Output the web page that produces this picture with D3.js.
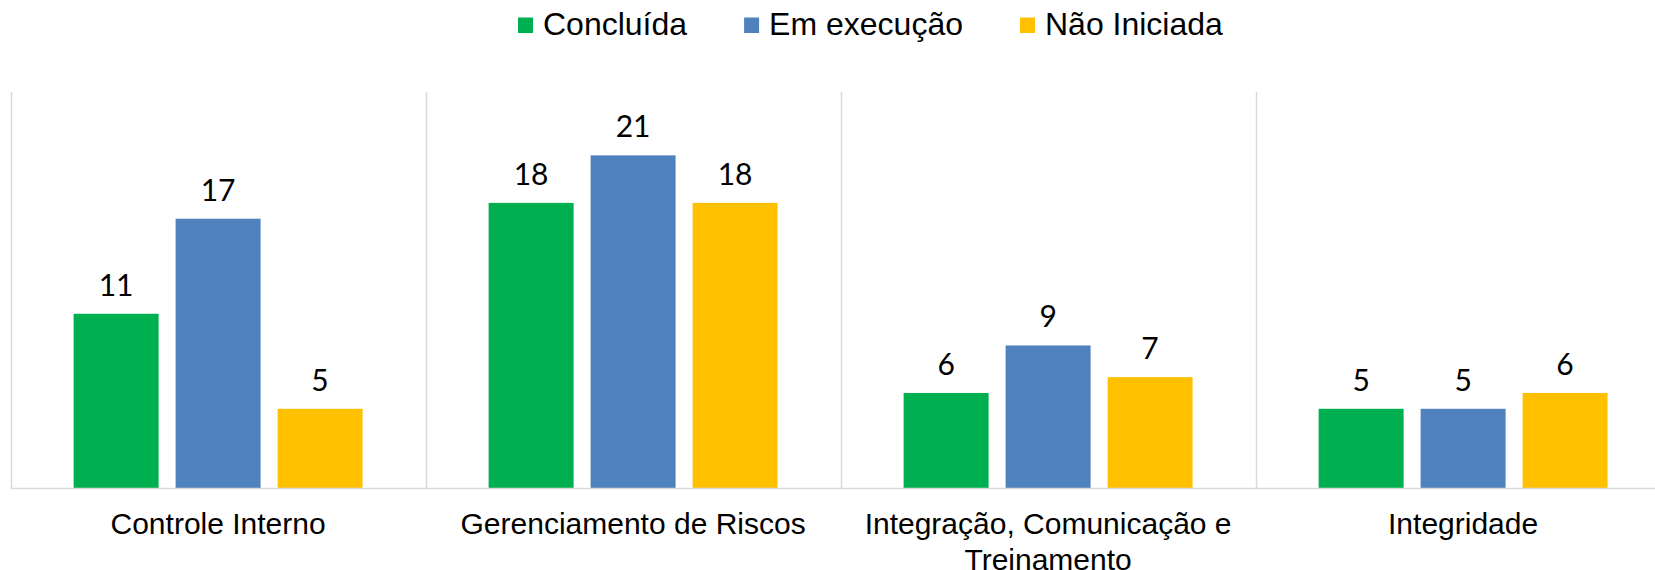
<!DOCTYPE html>
<html>
<head>
<meta charset="utf-8">
<script src="https://cdn.jsdelivr.net/npm/d3@7"></script>
<style>
  html, body { margin: 0; padding: 0; background: #fff; }
  svg { display: block; }
</style>
</head>
<body>
<div id="chart"></div>
<script>
// data
var categories = ["Controle Interno", "Gerenciamento de Riscos", "Integração, Comunicação e Treinamento", "Integridade"];
var series = ["Concluída", "Em execução", "Não Iniciada"];
var concluida = [11, 18, 6, 5];
var emExecucao = [17, 21, 9, 5];
var naoIniciada = [5, 18, 7, 6];
var colors = ["#00B050", "#4F81BD", "#FFC000"];

var values = [concluida, emExecucao, naoIniciada];
var width = 1655, height = 570;
var plotTop = 92, plotBottom = 488, plotLeft = 10.6, step = 415;

var svg = d3.select("#chart").append("svg")
  .attr("width", width)
  .attr("height", height);

var x = d3.scaleBand()
  .domain(categories)
  .range([plotLeft, plotLeft + step * categories.length]);

var xs = d3.scaleBand()
  .domain(series)
  .range([0, x.bandwidth()])
  .paddingInner(0.1667)
  .paddingOuter(0.618);

var y = d3.scaleLinear().domain([0, 25]).range([plotBottom, plotTop]);

// vertical dividers between categories
svg.append("g").selectAll("line")
  .data(categories)
  .join("line")
  .attr("x1", d => Math.round(x(d)) + 0.5)
  .attr("x2", d => Math.round(x(d)) + 0.5)
  .attr("y1", y(25))
  .attr("y2", y(0))
  .attr("stroke", "#d9d9d9")
  .attr("stroke-width", 1.5);

// bars
var groups = svg.append("g").selectAll("g")
  .data(categories)
  .join("g")
  .attr("transform", d => "translate(" + x(d) + ",0)");

groups.selectAll("rect")
  .data((d, i) => series.map((s, j) => ({s: s, v: values[j][i], c: colors[j]})))
  .join("rect")
  .attr("x", d => xs(d.s))
  .attr("width", xs.bandwidth())
  .attr("y", d => y(d.v))
  .attr("height", d => y(0) - y(d.v))
  .attr("fill", d => d.c);

groups.selectAll("text")
  .data((d, i) => series.map((s, j) => ({s: s, v: values[j][i]})))
  .join("text")
  .attr("x", d => xs(d.s) + xs.bandwidth() / 2)
  .attr("y", d => y(d.v) - 18)
  .attr("text-anchor", "middle")
  .style("font-family", "Lato, 'Open Sans', sans-serif")
  .style("font-size", "30px")
  .attr("fill", "#000")
  .text(d => d.v);

// baseline
svg.append("line")
  .attr("x1", plotLeft)
  .attr("x2", width)
  .attr("y1", y(0) + 0.5)
  .attr("y2", y(0) + 0.5)
  .attr("stroke", "#d9d9d9")
  .attr("stroke-width", 1.5);

// category labels, wrapped like the original
var wrapAt = 30;
svg.append("g").selectAll("text")
  .data(categories)
  .join("text")
  .attr("x", d => x(d) + x.bandwidth() / 2)
  .attr("y", 534)
  .attr("text-anchor", "middle")
  .style("font-family", "'Liberation Sans', Arial, sans-serif")
  .style("font-size", "30px")
  .attr("fill", "#000")
  .each(function(d) {
    var words = d.split(" "), lines = [], cur = "";
    words.forEach(function(w) {
      var t = cur ? cur + " " + w : w;
      if (t.length > wrapAt && cur) { lines.push(cur); cur = w; } else cur = t;
    });
    lines.push(cur);
    var el = d3.select(this);
    lines.forEach(function(l, k) {
      el.append("tspan")
        .attr("x", x(d) + x.bandwidth() / 2)
        .attr("dy", k ? 36 : 0)
        .text(l);
    });
  });

// legend
var legend = svg.append("g");
var lx = 518;
series.forEach(function(s, j) {
  legend.append("rect")
    .attr("x", lx).attr("y", 17.5)
    .attr("width", 15).attr("height", 15.5)
    .attr("fill", colors[j]);
  var t = legend.append("text")
    .attr("x", lx + 25)
    .attr("y", 35)
    .style("font-family", "'Liberation Sans', Arial, sans-serif")
    .style("font-size", "32px")
    .attr("fill", "#000")
    .text(s);
  lx += 25 + t.node().getComputedTextLength() + 57;
});
</script>
</body>
</html>
